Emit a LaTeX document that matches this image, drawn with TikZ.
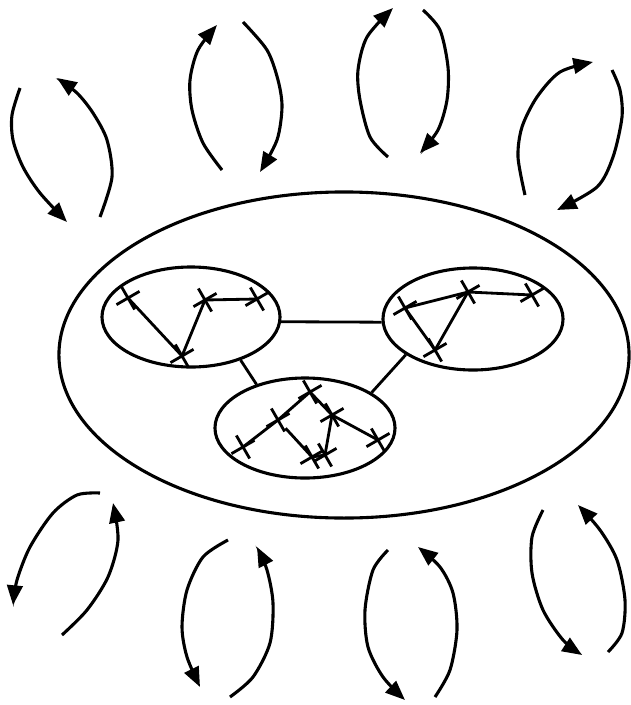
\documentclass[tikz,border=0pt]{standalone}
\usepackage{tikz}
\usetikzlibrary{arrows.meta, shapes.geometric, shapes.misc}
\tikzset{
    ringstyle/.style={ellipse, draw=black, line width=2.2pt, inner sep=0pt},
    outerring/.style={ringstyle, minimum width=14.25cm, minimum height=8.15cm},
    cluster/.style={ringstyle, minimum width=4.5cm, minimum height=2.5cm},
    xmark/.style={cross out, draw=black, line width=2pt, minimum size=0.4cm, inner sep=0pt, rotate=-15},
    link/.style={line width=2pt, color=black},
    loopy/.style={-{Triangle[length=14pt, width=11pt]}, line width=2.2pt, color=black}
}

\begin{document}
\begin{tikzpicture}[x=0.025cm, y=-0.025cm]
        \useasboundingbox (0,0) rectangle (631,705);
        % === Outer ring and the three clusters ===
        \node[outerring] (ring) at (344,355) {};
        \node[cluster, minimum width=4.45cm] (lclu) at (191,317) {};
        \node[cluster, minimum height=2.55cm] (rclu) at (473,319) {};
        \node[cluster] (bclu) at (305,428) {};
        \draw[link] (lclu.-3) -- (rclu.182);
        \draw[link] (lclu.-41) -- (bclu.138);
        \draw[link] (rclu.-152) -- (bclu.28);

        % === Left cluster ===
        \node[xmark] (la) at (128,298) {};
        \node[xmark] (lb) at (182,356) {};
        \node[xmark] (lc) at (205,300) {};
        \node[xmark] (ld) at (257,299) {};
        \draw[link] (la.center) -- (lb.center) -- (lc.center) -- (ld.center);

        % === Right cluster ===
        \node[xmark] (ra) at (405,308) {};
        \node[xmark] (rb) at (468,292) {};
        \node[xmark] (rc) at (532,295) {};
        \node[xmark] (rd) at (435,350) {};
        \draw[link] (ra.center) -- (rb.center) -- (rc.center);
        \draw[link] (rb.center) -- (rd.center) -- (ra.center);

        % === Bottom cluster ===
        \node[xmark] (ba) at (243,447) {};
        \node[xmark] (bb) at (278,420) {};
        \node[xmark] (bc) at (310,392) {};
        \node[xmark] (bd) at (332,415) {};
        \node[xmark] (be) at (378,440) {};
        \node[xmark] (bf) at (325,455) {};
        \node[xmark] (bg) at (312,457) {};
        \draw[link] (ba.center) -- (bb.center) -- (bc.center) -- (bd.center) -- (be.center);
        \draw[link] (bd.center) -- (bf.center) -- (bg.center);
        \draw[link] (bb) -- (bg.center);

        % === Loops above the ring ===
        \draw[loopy] plot[smooth] coordinates {(20,88) (12,115) (13,140) (23,167) (40,193) (67,222)};
        \draw[loopy] plot[smooth] coordinates {(100,217) (112,177) (107,140) (93,113) (77,93) (57,78)};
        \draw[loopy] plot[smooth] coordinates {(222,170) (203,143) (192,110) (190,80) (198,50) (217,25)};
        \draw[loopy] plot[smooth] coordinates {(243,22) (267,50) (278,80) (282,107) (277,140) (260,172)};
        \draw[loopy] plot[smooth] coordinates {(388,157) (370,137) (360,100) (358,70) (367,37) (393,8)};
        \draw[loopy] plot[smooth] coordinates {(423,10) (440,30) (448,67) (447,100) (438,130) (420,153)};
        \draw[loopy] plot[smooth] coordinates {(525,195) (518,157) (522,127) (537,97) (560,72) (593,62)};
        \draw[loopy] plot[smooth] coordinates {(612,70) (620,90) (622,117) (613,157) (597,187) (557,210)};

        % === Loops below the ring ===
        \draw[loopy] plot[smooth] coordinates {(100,493) (77,495) (53,513) (30,547) (17,580) (13,605)};
        \draw[loopy] plot[smooth] coordinates {(62,635) (87,610) (108,577) (118,540) (113,503)};
        \draw[loopy] plot[smooth] coordinates {(228,540) (203,557) (187,590) (182,627) (187,657) (200,687)};
        \draw[loopy] plot[smooth] coordinates {(230,697) (253,677) (270,643) (273,603) (267,570) (257,547)};
        \draw[loopy] plot[smooth] coordinates {(388,550) (373,570) (365,610) (368,647) (383,677) (405,700)};
        \draw[loopy] plot[smooth] coordinates {(435,697) (450,670) (457,630) (453,593) (440,567) (418,547)};
        \draw[loopy] plot[smooth] coordinates {(543,510) (532,537) (532,573) (543,610) (563,640) (582,655)};
        \draw[loopy] plot[smooth] coordinates {(608,652) (622,633) (625,600) (617,560) (600,530) (578,505)};
    \end{tikzpicture}
\end{document}
